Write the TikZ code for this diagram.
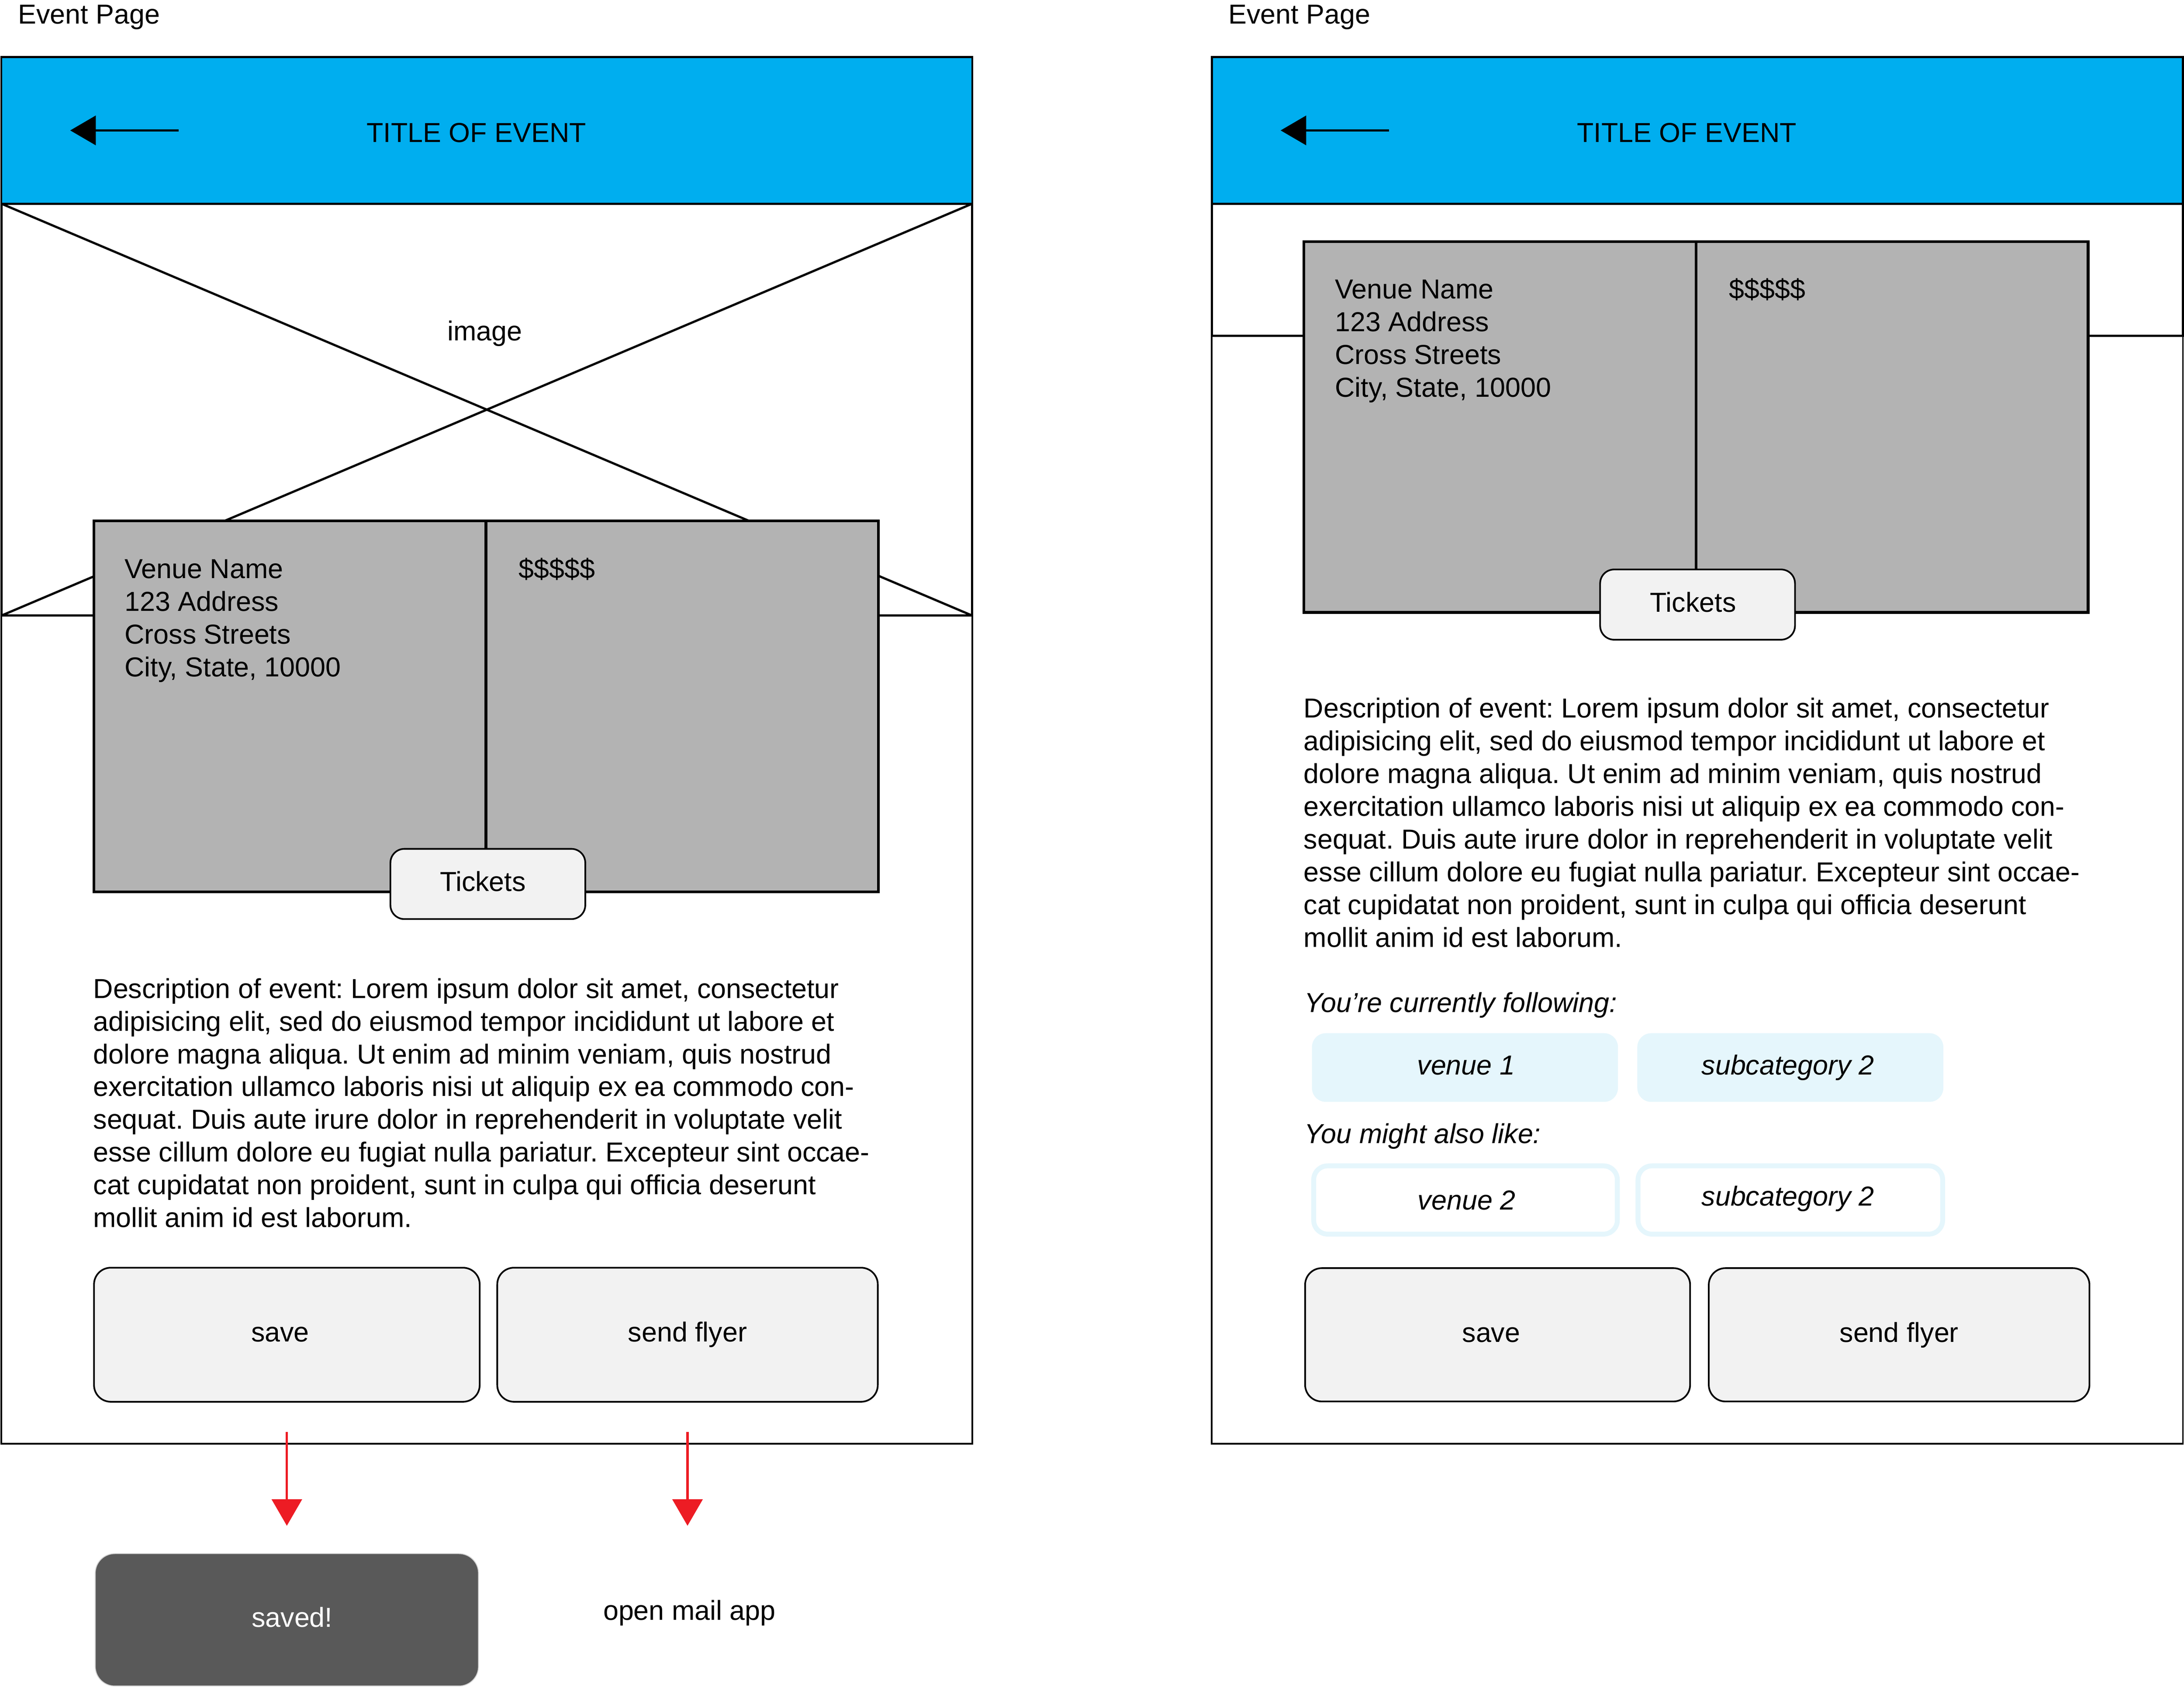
\documentclass[tikz,border=0pt]{standalone}
\usepackage{fontspec}
\setmainfont{Liberation Sans}
\usetikzlibrary{arrows.meta}
\definecolor{hdrblue}{HTML}{00AEEF}
\definecolor{cardgray}{HTML}{B3B3B3}
\definecolor{btngray}{HTML}{F2F2F2}
\definecolor{darkbtn}{HTML}{595959}
\definecolor{chipblue}{HTML}{E5F6FC}
\definecolor{arrowred}{HTML}{ED1C24}
\frenchspacing
\newcommand\desclines{%
{Description of event: Lorem ipsum dolor sit amet, consectetur},%
{adipisicing elit, sed do eiusmod tempor incididunt ut labore et},%
{dolore magna aliqua. Ut enim ad minim veniam, quis nostrud},%
{exercitation ullamco laboris nisi ut aliquip ex ea commodo con-},%
{sequat. Duis aute irure dolor in reprehenderit in voluptate velit},%
{esse cillum dolore eu fugiat nulla pariatur. Excepteur sint occae-},%
{cat cupidatat non proident, sunt in culpa qui officia deserunt},%
{mollit anim id est laborum.}}
\newcommand\venuelines{{Venue Name},{123 Address},{Cross Streets},{City, State, 10000}}
\begin{document}
\begin{tikzpicture}[x=0.5pt, y=-0.5pt,
  every node/.style={font=\fontsize{9.85}{11.75}\selectfont, inner sep=0pt, outer sep=0pt},
  wh/.style 2 args={minimum width=#1*0.5pt, minimum height=#2*0.5pt},
  lbl/.style={text height=7.4pt, text depth=2.25pt},
  itlbl/.style={lbl, font=\fontsize{9.85}{11.75}\selectfont\itshape},
  frame/.style={draw=black, line width=0.6pt, fill=white, rectangle},
  header/.style={draw=black, line width=0.7pt, fill=hdrblue, rectangle},
  imgbox/.style={draw=black, line width=0.8pt, rectangle},
  diag/.style={draw=black, line width=0.8pt},
  card/.style={draw=black, line width=1pt, fill=cardgray, rectangle},
  btn/.style={draw=black, line width=0.6pt, fill=btngray, rounded corners=6pt, rectangle},
  tixbtn/.style={draw=black, line width=0.6pt, fill=btngray, rounded corners=5pt, rectangle},
  savedbox/.style={draw=gray!35, line width=0.3pt, fill=darkbtn, rounded corners=7pt, rectangle},
  chipfill/.style={draw=none, fill=chipblue, rounded corners=5pt, rectangle},
  chipline/.style={draw=chipblue, line width=1.75pt, fill=white, rounded corners=5pt, rectangle},
  ital/.style={font=\fontsize{9.85}{11.75}\selectfont\itshape},
  backarr/.style={draw=black, line width=0.9pt, -{Triangle[length=9.2pt, width=10.5pt]}},
  redarr/.style={draw=arrowred, line width=0.8pt, -{Triangle[length=9.5pt, width=10.8pt]}, arrowred}
]
\useasboundingbox (0,0) rectangle (1568,1211.15);

% ================= LEFT PANEL =================
\node[anchor=base west] (pageL) at (13,17) {Event Page};
\node[frame, wh={697}{995.2}] (frameL) at (349.5,538.6) {};
\node[header, wh={697}{105.2}] (hdrL) at (349.5,93.6) {};
\coordinate (bkL1) at (128.3,93.6);
\coordinate (bkL2) at (50.4,93.6);
\draw[backarr] (bkL1) -- (bkL2);
\node[anchor=base] (titleL) at (342,102) {TITLE OF EVENT};
\node[imgbox, wh={697}{295.6}] (imgboxL) at (349.5,294) {};
\draw[diag] (imgboxL.north west) -- (imgboxL.south east);
\draw[diag] (imgboxL.north east) -- (imgboxL.south west);
\node[anchor=base] (imgtxtL) at (348,244.6) {image};
\node[card, wh={563.2}{266.1}] (cardL) at (349.1,506.95) {};
\coordinate (splitLt) at (348.9,373.9);
\coordinate (splitLb) at (348.9,640);
\draw[draw=black, line width=1pt] (splitLt) -- (splitLb);
\foreach \t [count=\i] in \venuelines
  \node[anchor=base west] (venL\i) at (89.5,{415+(\i-1)*23.5}) {\t};
\node[anchor=base west] (priceL) at (372.5,415) {\$\$\$\$\$};
\node[tixbtn, wh={139.9}{50.4}] (tixL) at (350.25,634.4) {};
\node[lbl] (tixLt) at ([xshift=-1.8pt]tixL.center) {Tickets};
\foreach \t [count=\i] in \desclines
  \node[anchor=base west] (descL\i) at (67,{716.3+(\i-1)*23.5}) {\t};
\node[btn, wh={276.9}{96.2}] (saveL) at (205.95,957.9) {};
\node[lbl] (saveLt) at ([xshift=-2.4pt]saveL.center) {save};
\node[btn, wh={273.2}{96.2}] (sendL) at (493.6,957.9) {};
\node[lbl] (sendLt) at (sendL.center) {send flyer};
\node[savedbox, wh={275.1}{95}] (savedL) at (205.95,1162.5) {};
\node[lbl, text=white] (savedLt) at ([xshift=1.9pt]savedL.center) {saved!};
\node[anchor=base] (mailL) at (495,1162.7) {open mail app};
\coordinate (mailtip) at (493.6,1095);
\draw[redarr, shorten <=10.8pt, shorten >=10pt] (saveL) -- (savedL);
\draw[redarr, shorten <=10.8pt] (sendL) -- (mailtip);

% ================= RIGHT PANEL =================
\node[anchor=base west] (pageR) at (882,17) {Event Page};
\node[frame, wh={697.2}{995.2}] (frameR) at (1218.6,538.6) {};
\node[header, wh={697.2}{105.2}] (hdrR) at (1218.6,93.6) {};
\coordinate (bkR1) at (997.3,93.6);
\coordinate (bkR2) at (919.4,93.6);
\draw[backarr] (bkR1) -- (bkR2);
\node[anchor=base] (titleR) at (1211,102) {TITLE OF EVENT};
\node[imgbox, wh={697.2}{94.9}] (imgboxR) at (1218.6,193.65) {};
\node[card, wh={563.2}{266.1}] (cardR) at (1217.6,306.45) {};
\coordinate (splitRt) at (1217.6,173.4);
\coordinate (splitRb) at (1217.6,439.5);
\draw[draw=black, line width=1pt] (splitRt) -- (splitRb);
\foreach \t [count=\i] in \venuelines
  \node[anchor=base west] (venR\i) at (958.5,{214.5+(\i-1)*23.5}) {\t};
\node[anchor=base west] (priceR) at (1241.5,214.5) {\$\$\$\$\$};
\node[tixbtn, wh={139.9}{50.4}] (tixR) at (1218.75,433.9) {};
\node[lbl] (tixRt) at ([xshift=-1.6pt]tixR.center) {Tickets};
\foreach \t [count=\i] in \desclines
  \node[anchor=base west] (descR\i) at (936,{515.2+(\i-1)*23.5}) {\t};
\node[ital, anchor=base west] (follow) at (936.5,726.4) {You’re currently following:};
\node[chipfill, wh={219.7}{49.3}] (chipA) at (1051.75,766.15) {};
\node[itlbl] (chipAt) at ([xshift=0.4pt]chipA.center) {venue 1};
\node[chipfill, wh={219.7}{49.3}] (chipB) at (1285.35,766.15) {};
\node[itlbl] (chipBt) at ([xshift=-0.9pt]chipB.center) {subcategory 2};
\node[ital, anchor=base west] (alsolike) at (936.5,820.4) {You might also like:};
\node[chipline, wh={218}{49}] (chipC) at (1052.15,861.2) {};
\node[itlbl] (chipCt) at ([xshift=0.4pt, yshift=-1pt]chipC.center) {venue 2};
\node[chipline, wh={218.7}{49}] (chipD) at (1285.35,861.2) {};
\node[itlbl] (chipDt) at ([xshift=-0.9pt, yshift=0.5pt]chipD.center) {subcategory 2};
\node[btn, wh={276.4}{95.7}] (saveR) at (1075.2,957.95) {};
\node[lbl] (saveRt) at ([xshift=-2.3pt]saveR.center) {save};
\node[btn, wh={273.3}{95.7}] (sendR) at (1363.45,957.95) {};
\node[lbl] (sendRt) at (sendR.center) {send flyer};
\end{tikzpicture}
\end{document}
